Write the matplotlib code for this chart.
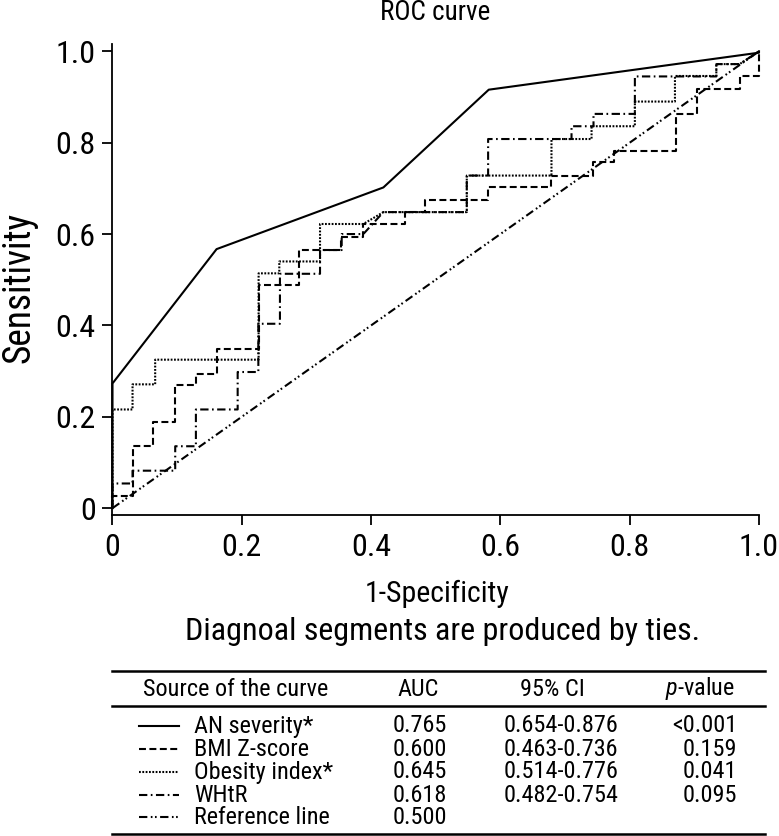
import matplotlib
matplotlib.use("Agg")
import matplotlib.pyplot as plt

plt.rcParams['font.family'] = ['Roboto Condensed', 'Liberation Sans', 'DejaVu Sans']
plt.rcParams['mathtext.fontset'] = 'custom'
plt.rcParams['mathtext.it'] = 'Roboto Condensed:italic'
plt.rcParams['lines.scale_dashes'] = False

# ROC curves (1-specificity, sensitivity)
an_x = [0, 0, 0.161, 0.419, 0.582, 1.0, 1.0]
an_y = [0, 0.273, 0.567, 0.702, 0.916, 0.997, 1.0]

bmi_x = [0, 0, 0.031, 0.031, 0.063, 0.063, 0.097, 0.097, 0.129, 0.129, 0.161, 0.161,
         0.226, 0.226, 0.289, 0.289, 0.354, 0.354, 0.388, 0.388, 0.452, 0.452, 0.483,
         0.483, 0.581, 0.581, 0.679, 0.679, 0.744, 0.744, 0.775, 0.775, 0.872, 0.872,
         0.904, 0.904, 0.971, 0.971, 1.0, 1.0]
bmi_y = [0, 0.027, 0.027, 0.136, 0.136, 0.189, 0.189, 0.269, 0.269, 0.293, 0.293, 0.349,
         0.349, 0.4875, 0.4875, 0.565, 0.565, 0.5945, 0.5945, 0.622, 0.622, 0.648, 0.648,
         0.675, 0.675, 0.702, 0.702, 0.728, 0.728, 0.757, 0.757, 0.7825, 0.7825, 0.863,
         0.863, 0.917, 0.917, 0.945, 0.945, 1.0]

obes_x = [0, 0, 0.031, 0.031, 0.066, 0.066, 0.226, 0.226, 0.258, 0.258, 0.321, 0.321,
          0.388, 0.419, 0.548, 0.548, 0.679, 0.679, 0.741, 0.741, 0.808, 0.808, 0.870,
          0.870, 0.934, 0.934, 0.97, 1.0]
obes_y = [0, 0.216, 0.216, 0.271, 0.271, 0.325, 0.325, 0.514, 0.514, 0.54, 0.54, 0.622,
          0.622, 0.648, 0.648, 0.728, 0.728, 0.808, 0.808, 0.836, 0.836, 0.89, 0.89,
          0.946, 0.946, 0.972, 0.972, 1.0]

whtr_x = [0, 0, 0.031, 0.031, 0.097, 0.097, 0.129, 0.129, 0.1936, 0.1936, 0.2256, 0.2256,
          0.259, 0.259, 0.321, 0.321, 0.3545, 0.3545, 0.388, 0.419, 0.548, 0.548, 0.581,
          0.581, 0.71, 0.71, 0.744, 0.744, 0.808, 0.808, 0.934, 0.934, 0.97, 1.0]
whtr_y = [0, 0.054, 0.054, 0.082, 0.082, 0.1355, 0.1355, 0.216, 0.216, 0.298, 0.298, 0.4036,
          0.4036, 0.513, 0.513, 0.565, 0.565, 0.60, 0.60, 0.648, 0.648, 0.728, 0.728,
          0.808, 0.808, 0.836, 0.836, 0.863, 0.863, 0.945, 0.945, 0.972, 0.972, 1.0]

ref_x = [0, 1]
ref_y = [0, 1]

ticks = [0, 0.2, 0.4, 0.6, 0.8, 1.0]
tick_labels = ['0', '0.2', '0.4', '0.6', '0.8', '1.0']

names = ['AN severity*', 'BMI Z-score', 'Obesity index*', 'WHtR', 'Reference line']
auc = ['0.765', '0.600', '0.645', '0.618', '0.500']
ci = ['0.654-0.876', '0.463-0.736', '0.514-0.776', '0.482-0.754', '']
pval = ['<0.001', '0.159', '0.041', '0.095', '']

styles = ['-', (0, (5, 2.5)), (0, (1.3, 1.1)), (0, (6, 2.5, 1.2, 2.5)),
          (0, (6, 2.5, 1.2, 1.8, 1.2, 2.5))]

W, H = 779, 836
fig = plt.figure(figsize=(W / 100, H / 100), dpi=100)
ax = fig.add_axes([112.5 / W, 1 - 515 / H, (759 - 112.5) / W, (515 - 44) / H])

curves = [(an_x, an_y), (bmi_x, bmi_y), (obes_x, obes_y), (whtr_x, whtr_y), (ref_x, ref_y)]
for (xs, ys), ls in zip(curves, styles):
    ax.plot(xs, ys, color='black', lw=1.5, linestyle=ls, clip_on=False)

ax.set_xlim(0, 1.0)
ax.set_ylim(-0.015, 1.016)
ax.set_xticks(ticks)
ax.set_xticklabels(tick_labels)
ax.set_yticks(ticks)
ax.set_yticklabels(tick_labels)
ax.tick_params(direction='out', length=7, width=1.3, labelsize=23)
ax.tick_params(axis='x', pad=6)
ax.tick_params(axis='y', pad=5)
for s in ['top', 'right']:
    ax.spines[s].set_visible(False)
for s in ['left', 'bottom']:
    ax.spines[s].set_linewidth(1.3)

fig.text(19 / W, 1 - 287 / H, 'Sensitivity', ha='center', va='center', rotation=90,
         fontsize=27)
fig.text(435 / W, 1 - 13 / H, 'ROC curve', ha='center', va='center', fontsize=19.5)
fig.text(437 / W, 1 - 594 / H, '1-Specificity', ha='center', va='center', fontsize=21.5)
fig.text(443 / W, 1 - 632 / H, 'Diagnoal segments are produced by ties.', ha='center',
         va='center', fontsize=23)

# summary table in pixel coordinates
tab = fig.add_axes([0, 0, 1, 1])
tab.set_xlim(0, W)
tab.set_ylim(H, 0)
tab.axis('off')
tab.plot([112, 765], [671, 671], color='black', lw=1.8)
tab.plot([112, 765], [706, 706], color='black', lw=1.8)
tab.plot([112, 765], [834, 834], color='black', lw=1.8)

fs = 17.5
hy = 689
tab.text(236, hy, 'Source of the curve', ha='center', va='center', fontsize=fs)
tab.text(418, hy, 'AUC', ha='center', va='center', fontsize=fs)
tab.text(552, hy, '95% CI', ha='center', va='center', fontsize=fs)
tab.text(700, hy, r'$p$-value', ha='center', va='center', fontsize=fs)

row_y = [726, 749, 772, 795, 817]
for i, y in enumerate(row_y):
    tab.plot([139, 179], [y, y], color='black', lw=1.5, linestyle=styles[i])
    tab.text(194, y, names[i], ha='left', va='center', fontsize=fs)
    tab.text(420, y, auc[i], ha='center', va='center', fontsize=fs)
    tab.text(561, y, ci[i], ha='center', va='center', fontsize=fs)
    tab.text(737, y, pval[i], ha='right', va='center', fontsize=fs)

fig.savefig('out.png', dpi=100)
